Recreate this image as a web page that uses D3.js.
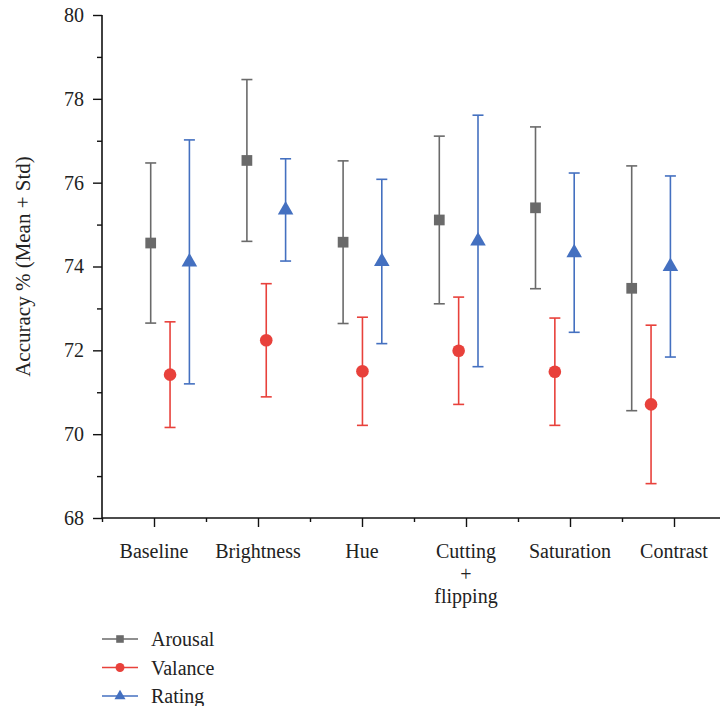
<!DOCTYPE html>
<html>
<head>
<meta charset="utf-8">
<script src="https://cdn.jsdelivr.net/npm/d3@7"></script>
<style>
  body { margin: 0; background: #fff; }
  text { font-family: "Liberation Serif", "DejaVu Serif", serif; fill: #222; }
</style>
</head>
<body>
<div id="container"></div>
<script>
"use strict";

const categories = ["Baseline", "Brightness", "Hue", "Cutting\n+\nflipping", "Saturation", "Contrast"];
const seriesNames = ["Arousal", "Valance", "Rating"];

const arousalMean = [74.56, 76.53, 74.58, 75.11, 75.40, 73.48];
const arousalStd = [1.91, 1.93, 1.94, 2.00, 1.93, 2.92];
const valanceMean = [71.42, 72.24, 71.50, 71.99, 71.49, 70.71];
const valanceStd = [1.26, 1.35, 1.29, 1.28, 1.28, 1.89];
const ratingMean = [74.11, 75.35, 74.12, 74.61, 74.33, 74.00];
const ratingStd = [2.91, 1.22, 1.96, 3.00, 1.90, 2.16];

const yMajorTicks = [68, 70, 72, 74, 76, 78, 80];
const yMinorTicks = [69, 71, 73, 75, 77, 79];

const plotWidth = 720;
const plotHeight = 706;
const fontSize = "20px";

const colors = ["#6a6a6a", "#e8413b", "#4470c0"];
const symbols = [d3.symbolSquare, d3.symbolCircle, d3.symbolTriangle];
const symbolSizes = [115, 125, 105];

const series = seriesNames.map((name, s) => ({
  name,
  color: colors[s],
  symbol: symbols[s],
  size: symbolSizes[s],
  values: categories.map((c, i) => ({
    category: c,
    mean: [arousalMean, valanceMean, ratingMean][s][i],
    std: [arousalStd, valanceStd, ratingStd][s][i],
  })),
}));

const svg = d3
  .select("#container")
  .append("svg")
  .attr("width", plotWidth)
  .attr("height", plotHeight);

const y = d3.scaleLinear().domain([68, 80]).range([518, 15]);

// axis scale (ticks at category centres, minor ticks between them)
const xAxisScale = d3.scaleLinear().domain([0.5, 6.5]).range([102, 726]);

// marker positions
const groupScale = d3.scalePoint().domain(categories).range([150.7, 631.7]);
const seriesScale = d3.scalePoint().domain(seriesNames).range([0, 38.7]);

// y axis
const yAxis = svg.append("g").attr("transform", "translate(102,0)");
yAxis.call(d3.axisLeft(y).tickValues(yMajorTicks).tickSize(9).tickSizeOuter(0).tickPadding(9));
yAxis.append("g").call(d3.axisLeft(y).tickValues(yMinorTicks).tickSize(5).tickFormat(""));
yAxis.selectAll("path.domain").remove();
yAxis.selectAll("line").attr("stroke", "#111").attr("stroke-width", 1.4);
yAxis.selectAll("text").style("font-size", fontSize).attr("fill", "#222");
yAxis
  .append("line")
  .attr("y1", y(68) + 0.7)
  .attr("y2", y(80))
  .attr("stroke", "#111")
  .attr("stroke-width", 1.6);

// x axis
const xAxis = svg.append("g").attr("transform", `translate(0,${y(68)})`);
xAxis.call(
  d3.axisBottom(xAxisScale)
    .tickValues(d3.range(1, 7))
    .tickSize(9)
    .tickFormat("")
);
xAxis.append("g").call(
  d3.axisBottom(xAxisScale)
    .tickValues(d3.range(0.5, 7, 1))
    .tickSize(4)
    .tickFormat("")
);
xAxis.selectAll("path.domain").remove();
xAxis.selectAll("line").attr("stroke", "#111").attr("stroke-width", 1.4);
xAxis
  .append("line")
  .attr("x1", 102)
  .attr("x2", 720)
  .attr("stroke", "#111")
  .attr("stroke-width", 1.6);

// category labels
categories.forEach((c, i) => {
  const t = xAxis
    .append("text")
    .attr("x", xAxisScale(i + 1))
    .attr("y", 40)
    .attr("text-anchor", "middle")
    .style("font-size", fontSize);
  c.split("\n").forEach((line, k) => {
    t.append("tspan")
      .attr("x", xAxisScale(i + 1))
      .attr("dy", k === 0 ? 0 : 22.5)
      .attr("fill", "#222")
      .text(line);
  });
});

// y label
svg
  .append("text")
  .attr("transform", `translate(30,${y(74)}) rotate(-90)`)
  .attr("text-anchor", "middle")
  .style("font-size", "21px")
  .text("Accuracy % (Mean + Std)");

// error bars and markers
series.forEach((s) => {
  const g = svg.append("g");
  const xOf = (d) => groupScale(d.category) + seriesScale(s.name);

  g.selectAll("line.bar")
    .data(s.values)
    .enter()
    .append("line")
    .attr("class", "bar")
    .attr("x1", xOf)
    .attr("x2", xOf)
    .attr("y1", (d) => y(d.mean + d.std))
    .attr("y2", (d) => y(d.mean - d.std))
    .attr("stroke", s.color)
    .attr("stroke-width", 1.6);

  [1, -1].forEach((sign, k) => {
    g.selectAll(`line.cap${k}`)
      .data(s.values)
      .enter()
      .append("line")
      .attr("class", `cap${k}`)
      .attr("x1", (d) => xOf(d) - 5.5)
      .attr("x2", (d) => xOf(d) + 5.5)
      .attr("y1", (d) => y(d.mean + sign * d.std))
      .attr("y2", (d) => y(d.mean + sign * d.std))
      .attr("stroke", s.color)
      .attr("stroke-width", 1.6);
  });

  g.selectAll("path.marker")
    .data(s.values)
    .enter()
    .append("path")
    .attr("class", "marker")
    .attr("d", d3.symbol().type(s.symbol).size(s.size))
    .attr("transform", (d) => `translate(${xOf(d)},${y(d.mean)})`)
    .attr("fill", s.color);
});

// legend
const legendY = d3.scalePoint().domain(seriesNames).range([639, 696]);
const legend = svg
  .append("g")
  .selectAll("g")
  .data(series)
  .enter()
  .append("g")
  .attr("transform", (d) => `translate(0,${legendY(d.name)})`);

legend
  .append("line")
  .attr("x1", 102)
  .attr("x2", 138)
  .attr("stroke", (d) => d.color)
  .attr("stroke-width", 1.6);

legend
  .append("path")
  .attr("d", (d) => d3.symbol().type(d.symbol).size(d.size * 0.5)())
  .attr("transform", "translate(120,0)")
  .attr("fill", (d) => d.color);

legend
  .append("text")
  .attr("x", 151)
  .attr("dy", "0.35em")
  .style("font-size", fontSize)
  .text((d) => d.name);
</script>
</body>
</html>
